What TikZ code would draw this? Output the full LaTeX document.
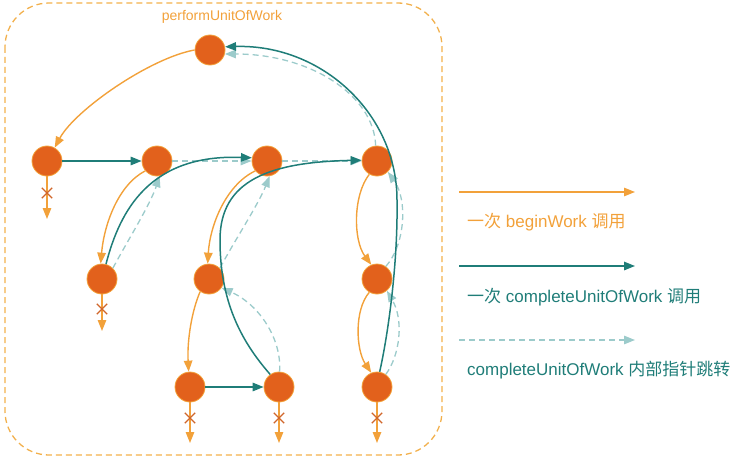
\documentclass[tikz,border=0pt]{standalone}
\usepackage{fontspec}
\setmainfont{Liberation Sans}
\newfontfamily\cjk{Noto Sans CJK SC}
\usetikzlibrary{arrows.meta, shapes.misc}
\definecolor{fibfill}{HTML}{E2611C}
\definecolor{fibedge}{HTML}{F3A33C}
\definecolor{beginclr}{HTML}{F2A13A}
\definecolor{completeclr}{HTML}{1F7D78}
\definecolor{jumpclr}{HTML}{9CCBCB}
\definecolor{nullclr}{HTML}{D0662A}
\definecolor{frameclr}{HTML}{F2B04C}

\begin{document}
\begin{tikzpicture}[
x=1pt, y=1pt,
fiber/.style={circle, fill=fibfill, draw=fibedge, line width=0.8pt, minimum size=30pt, inner sep=0pt},
nullmark/.style={cross out, draw=nullclr, line width=1.4pt, minimum size=9pt, inner sep=0pt},
beginarrow/.style={-{Triangle[length=11pt, width=8.5pt]}, draw=beginclr, line width=1.4pt},
completearrow/.style={-{Triangle[length=11pt, width=8.5pt]}, draw=completeclr, line width=1.5pt},
jumparrow/.style={-{Triangle[length=11pt, width=8.5pt]}, draw=jumpclr, line width=1.3pt, dash pattern=on 6pt off 4pt},
legendtext/.style={anchor=west, font=\fontsize{17}{19}\selectfont, inner sep=0pt}
]
\useasboundingbox (0,0) rectangle (742,-460);

\draw[frameclr, line width=1.3pt, dash pattern=on 6pt off 4pt, rounded corners=44pt] (5,-3) rectangle (442,-455);
\node[text=beginclr, font=\fontsize{14}{16}\selectfont] (title) at (222,-17) {performUnitOfWork};

\node[fiber] (root) at (210,-50) {};
\node[fiber] (a) at (47,-161) {};
\node[fiber] (b) at (157,-161) {};
\node[fiber] (c) at (267,-161) {};
\node[fiber] (d) at (377,-161) {};
\node[fiber] (e) at (102,-279) {};
\node[fiber] (f) at (209,-279) {};
\node[fiber] (g) at (377,-279) {};
\node[fiber] (h) at (190,-387) {};
\node[fiber] (i) at (279,-387) {};
\node[fiber] (j) at (377,-387) {};

\coordinate (anull) at (47,-219);
\coordinate (enull) at (102,-331);
\coordinate (hnull) at (190,-443);
\coordinate (inull) at (279,-443);
\coordinate (jnull) at (377,-443);

\draw[beginarrow] (a) -- (anull);
\draw[beginarrow] (e) -- (enull);
\draw[beginarrow] (h) -- (hnull);
\draw[beginarrow] (i) -- (inull);
\draw[beginarrow] (j) -- (jnull);

\node[nullmark] (across) at (47,-193) {};
\node[nullmark] (ecross) at (102,-309) {};
\node[nullmark] (hcross) at (190,-418) {};
\node[nullmark] (icross) at (279,-418) {};
\node[nullmark] (jcross) at (377,-418) {};

\draw[jumparrow] (b) -- (c);
\draw[jumparrow] (c) -- (d);
\draw[jumparrow] (e.45) .. controls (128,-240) and (150,-205) .. (b.-80);
\draw[jumparrow] (f.45) .. controls (235,-240) and (258,-205) .. (c.-80);
\draw[jumparrow] (i.88) .. controls (282,-340) and (260,-305) .. (f.-35);
\draw[jumparrow] (j.55) .. controls (400,-355) and (404,-320) .. (g.-50);
\draw[jumparrow] (g.55) .. controls (405,-245) and (408,-200) .. (d.-45);
\draw[jumparrow] (d.95) .. controls (374,-95) and (310,-54) .. (root.-15);

\draw[beginarrow] (root.180) .. controls (150,-58) and (75,-110) .. (a.60);
\draw[beginarrow] (b.220) .. controls (118,-185) and (104,-225) .. (e.95);
\draw[beginarrow] (c.220) .. controls (226,-185) and (210,-225) .. (f.95);
\draw[beginarrow] (f.235) .. controls (192,-310) and (187,-340) .. (h.95);
\draw[beginarrow] (d.240) .. controls (353,-195) and (353,-240) .. (g.112);
\draw[beginarrow] (g.240) .. controls (354,-310) and (356,-350) .. (j.112);

\draw[completearrow] (a) -- (b);
\draw[completearrow] (h) -- (i);
\draw[completearrow] (e.75) .. controls (120,-210) and (150,-154) .. (c.168);
\draw[completearrow] (i.125) .. controls (240,-340) and (220,-300) .. (220,-240)
  .. controls (220,-180) and (270,-162) .. (d.177);
\draw[completearrow] (j.80) .. controls (389,-330) and (398,-260) .. (397,-200)
  .. controls (397,-114) and (322,-44) .. (root.12);

\coordinate (beginstart) at (459,-192);
\coordinate (beginend) at (635,-192);
\coordinate (completestart) at (459,-266);
\coordinate (completeend) at (635,-266);
\coordinate (jumpstart) at (459,-340);
\coordinate (jumpend) at (635,-340);
\draw[beginarrow] (beginstart) -- (beginend);
\draw[completearrow] (completestart) -- (completeend);
\draw[jumparrow] (jumpstart) -- (jumpend);

\node[legendtext, text=beginclr] (beginlabel) at (467,-222) {{\cjk 一次} beginWork {\cjk 调用}};
\node[legendtext, text=completeclr] (completelabel) at (467,-297) {{\cjk 一次} completeUnitOfWork {\cjk 调用}};
\node[legendtext, text=completeclr] (jumplabel) at (467,-370) {completeUnitOfWork {\cjk 内部指针跳转}};

\end{tikzpicture}
\end{document}
